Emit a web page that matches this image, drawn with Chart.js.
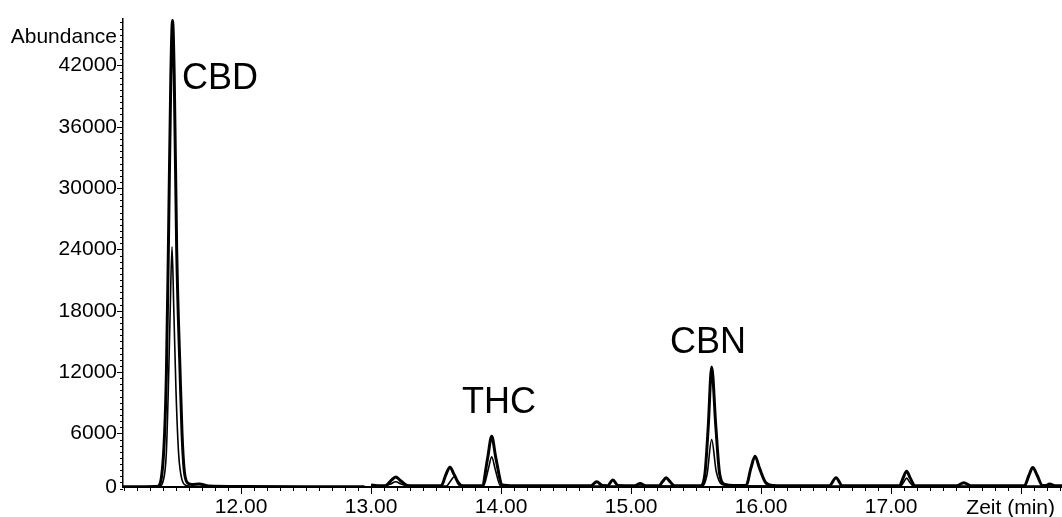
<!DOCTYPE html>
<html lang="de">
<head>
    <meta charset="UTF-8">
    <title>Chromatogramm CBD / THC / CBN</title>
    <script src="https://cdn.jsdelivr.net/npm/chart.js"></script>
    <style>
        html, body { margin: 0; padding: 0; background: #fff; }
        #wrap { width: 1062px; height: 517px; position: relative; }
    </style>
</head>
<body>
    <div id="wrap"><canvas id="chrom"></canvas></div>

    <script>
        // Trace 1 (thick line), retention time in min / abundance; null splits the two windows
        const timeA = [11.09, 11.25, 11.355, 11.385, 11.412, 11.426, 11.441, 11.46, 11.473, 11.486, 11.505, 11.531, 11.546, 11.562, 11.585, 11.62, 11.68, 11.75, 12.0, 12.5, 12.95, 12.97,
            13.00, 13.05, 13.11, 13.155, 13.19, 13.225, 13.28, 13.40, 13.54, 13.575, 13.607, 13.64, 13.69, 13.80,
            13.855, 13.897, 13.928, 13.96, 14.01, 14.10, 14.40, 14.69, 14.736, 14.78, 14.82, 14.86, 14.90,
            15.03, 15.07, 15.11, 15.215, 15.243, 15.27, 15.298, 15.335, 15.535, 15.568, 15.594, 15.62, 15.652, 15.682, 15.725, 15.79,
            15.885, 15.922, 15.954, 15.988, 16.035, 16.09, 16.30, 16.525, 16.577, 16.625, 16.90,
            17.065, 17.093, 17.12, 17.147, 17.185, 17.40, 17.505, 17.56, 17.615, 17.85,
            18.025, 18.062, 18.09, 18.122, 18.165, 18.19, 18.22, 18.26, 18.32];
        const abundA = [790, 790, 800, 1500, 6000, 12000, 24000, 41000, 46400, 41000, 24000, 12000, 6000, 2500, 1200, 1000, 1050, 850, 800, 790, 790, null,
            950, 880, 880, 1400, 1730, 1400, 900, 870, 880, 1950, 2700, 1950, 900, 870,
            890, 3600, 5710, 3600, 950, 880, 870, 880, 1270, 900, 890, 1440, 900,
            880, 1100, 880, 880, 1300, 1660, 1300, 880, 890, 2000, 6700, 12500, 6700, 2000, 1000, 900,
            900, 2600, 3770, 2600, 1200, 900, 870, 880, 1660, 880, 870,
            880, 1650, 2310, 1650, 880, 870, 880, 1170, 880, 880,
            880, 1950, 2670, 1950, 900, 900, 1050, 890, 880];

        // Trace 2 (thin line)
        const timeB = [11.09, 11.25, 11.37, 11.40, 11.425, 11.44, 11.455, 11.469, 11.483, 11.50, 11.52, 11.545, 11.58, 11.65, 12.0, 12.5, 12.95, 12.97,
            13.00, 13.10, 13.15, 13.19, 13.23, 13.28, 13.58, 13.612, 13.64, 13.668, 13.705,
            13.865, 13.902, 13.928, 13.955, 13.995, 14.50, 15.00,
            15.55, 15.585, 15.62, 15.655, 15.70, 15.78, 16.50,
            17.075, 17.098, 17.12, 17.142, 17.17, 18.00, 18.32];
        const abundB = [780, 780, 790, 1300, 4000, 10000, 18000, 24250, 18000, 10000, 4000, 1500, 900, 800, 790, 780, 780, null,
            920, 860, 1050, 1270, 1050, 860, 860, 1350, 1760, 1350, 870,
            870, 2500, 3700, 2500, 880, 860, 860,
            870, 2000, 5390, 2300, 1000, 870, 860,
            860, 1250, 1630, 1250, 860, 860, 860];

        // peak names and where their text sits (time, abundance of text baseline)
        const peakNames = ['CBD', 'THC', 'CBN'];
        const nameTimes = [11.546, 13.70, 15.30];
        const nameAbund = [39700, 8040, 13860];

        // axes
        const xMin = 11.092, xMax = 18.315;
        const yFloor = 757, yMax = 46580;
        const xTickValues = [12, 13, 14, 15, 16, 17];
        const yTickValues = [0, 6000, 12000, 18000, 24000, 30000, 36000, 42000];

        const FONT = "'Liberation Sans', Arial, sans-serif";

        const toPoints = (ts, vs) => ts.map((t, i) => ({ x: t, y: vs[i] }));

        // tick marks, axis captions, peak names
        const decorations = {
            id: 'decorations',
            afterDraw(chart) {
                const ctx = chart.ctx;
                const xs = chart.scales.x, ys = chart.scales.y;
                const area = chart.chartArea;
                ctx.save();
                ctx.strokeStyle = '#000';
                ctx.lineWidth = 1;
                ctx.beginPath();
                for (let k = 111; k <= 183; k++) {
                    const px = Math.round(xs.getPixelForValue(k / 10)) + 0.5;
                    const len = k % 10 === 0 ? 7 : 4;
                    ctx.moveTo(px, area.bottom);
                    ctx.lineTo(px, area.bottom + len);
                }
                for (let k = 1; k <= 77; k++) {
                    const v = k * 600;
                    const py = Math.round(ys.getPixelForValue(v)) + 0.5;
                    const len = k % 10 === 0 ? 6 : 3;
                    ctx.moveTo(area.left, py);
                    ctx.lineTo(area.left - len, py);
                }
                ctx.stroke();

                ctx.fillStyle = '#000';
                ctx.font = '21px ' + FONT;
                ctx.textAlign = 'right';
                ctx.textBaseline = 'middle';
                ctx.fillText('Abundance', area.left - 6, area.top + 19);
                ctx.fillText('Zeit (min)', area.right - 7, area.bottom + 21);

                ctx.font = '36px ' + FONT;
                ctx.textAlign = 'left';
                ctx.textBaseline = 'alphabetic';
                peakNames.forEach((name, i) => {
                    ctx.fillText(name, xs.getPixelForValue(nameTimes[i]), ys.getPixelForValue(nameAbund[i]));
                });
                ctx.restore();
            }
        };

        new Chart(document.getElementById('chrom'), {
            type: 'line',
            data: {
                datasets: [{
                    data: toPoints(timeA, abundA),
                    borderColor: '#000',
                    borderWidth: 3,
                    cubicInterpolationMode: 'monotone',
                    pointRadius: 0,
                    spanGaps: false
                }, {
                    data: toPoints(timeB, abundB),
                    borderColor: '#000',
                    borderWidth: 1.6,
                    cubicInterpolationMode: 'monotone',
                    pointRadius: 0,
                    spanGaps: false
                }]
            },
            options: {
                responsive: true,
                maintainAspectRatio: false,
                animation: false,
                parsing: false,
                layout: { padding: { top: 15, right: 0, bottom: 0, left: 0 } },
                plugins: { legend: { display: false }, tooltip: { enabled: false } },
                scales: {
                    x: {
                        type: 'linear',
                        min: xMin,
                        max: xMax,
                        border: { color: '#000', width: 2 },
                        grid: { drawOnChartArea: false, drawTicks: false },
                        afterBuildTicks: scale => { scale.ticks = xTickValues.map(v => ({ value: v })); },
                        afterFit: scale => { scale.height = 30; },
                        ticks: {
                            padding: 8,
                            color: '#000',
                            font: { family: FONT, size: 21 },
                            maxRotation: 0,
                            autoSkip: false,
                            callback: v => v.toFixed(2)
                        }
                    },
                    y: {
                        type: 'linear',
                        min: yFloor,
                        max: yMax,
                        border: { color: '#000', width: 1.5 },
                        grid: { drawOnChartArea: false, drawTicks: false },
                        afterBuildTicks: scale => { scale.ticks = yTickValues.map(v => ({ value: Math.max(v, yFloor) })); },
                        afterFit: scale => { scale.width = 123; },
                        ticks: {
                            padding: 6,
                            color: '#000',
                            font: { family: FONT, size: 21 },
                            autoSkip: false,
                            callback: (v, i) => String(yTickValues[i])
                        }
                    }
                }
            },
            plugins: [decorations]
        });
    </script>
</body>
</html>
